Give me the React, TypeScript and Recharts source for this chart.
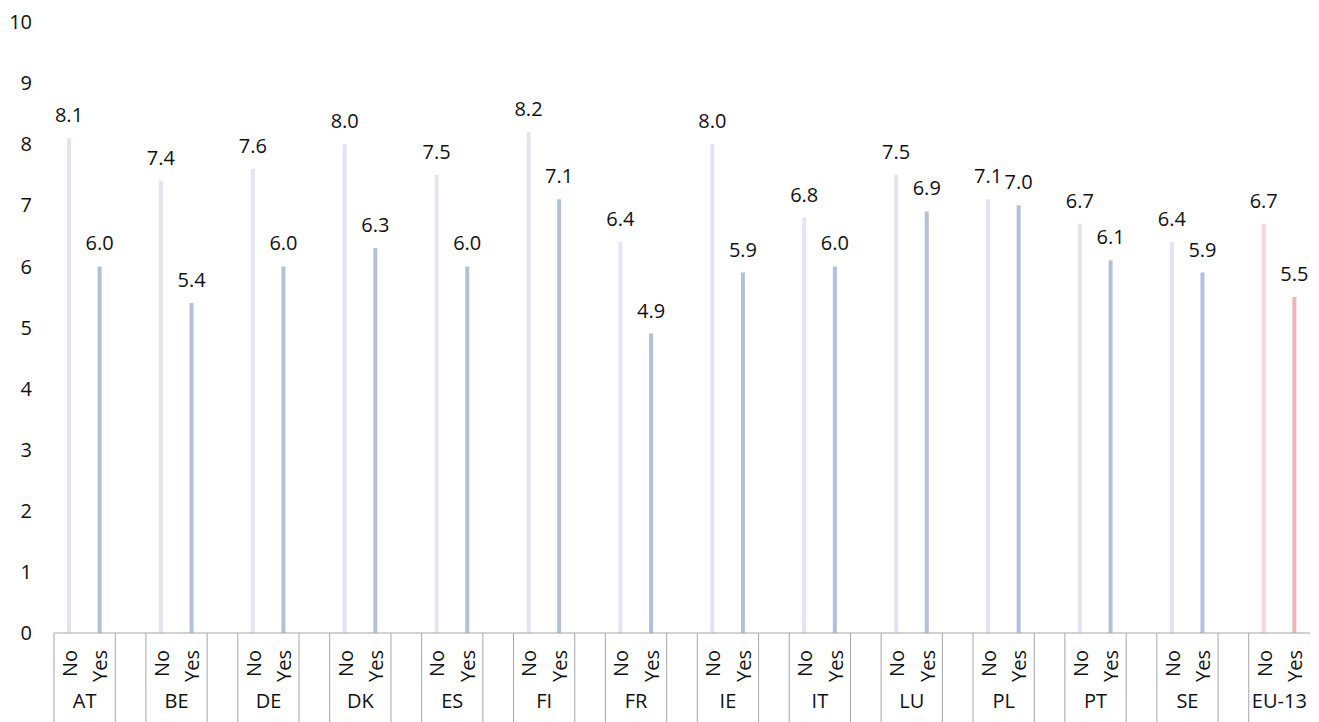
import React from 'react';
import { BarChart, Bar, XAxis, YAxis, Cell, LabelList } from 'recharts';

const countries = ['AT', 'BE', 'DE', 'DK', 'ES', 'FI', 'FR', 'IE', 'IT', 'LU', 'PL', 'PT', 'SE', 'EU-13'];
const noValues = [8.1, 7.4, 7.6, 8.0, 7.5, 8.2, 6.4, 8.0, 6.8, 7.5, 7.1, 6.7, 6.4, 6.7];
const yesValues = [6.0, 5.4, 6.0, 6.3, 6.0, 7.1, 4.9, 5.9, 6.0, 6.9, 7.0, 6.1, 5.9, 5.5];
const seriesLabels = ['No', 'Yes'];
const yTicks = [0, 1, 2, 3, 4, 5, 6, 7, 8, 9, 10];

const colors = {
  no: '#e4e4f0',
  yes: '#b6bfd9',
  euNo: '#f6d8d8',
  euYes: '#eab7bb',
};

type Row = { id: string; label: string; group: string; kind: 'no' | 'yes' | 'gap'; value: number | null };

const rows: Row[] = [];
countries.forEach((c, i) => {
  rows.push({ id: c + '-no', label: seriesLabels[0], group: c, kind: 'no', value: noValues[i] });
  rows.push({ id: c + '-yes', label: seriesLabels[1], group: c, kind: 'yes', value: yesValues[i] });
  if (i < countries.length - 1) rows.push({ id: c + '-gap', label: '', group: c, kind: 'gap', value: null });
});

const W = 1319;
const H = 722;
const MARGIN = { top: 22, right: 9, bottom: 0, left: 0 };
const Y_AXIS_W = 54;
const X_AXIS_H = 89;
const SLOT = (W - MARGIN.left - MARGIN.right - Y_AXIS_W) / rows.length;
const FONT = '"Open Sans", "Noto Sans", sans-serif';
const LINE = '#a6a6a6';

const XTick = (props: any) => {
  const { x, y, payload } = props;
  const idx = payload.index;
  const row = rows[idx];
  const bottom = H;
  const els: React.ReactNode[] = [];
  if (idx === 0) {
    els.push(<line key="l0" x1={x - SLOT / 2} x2={x - SLOT / 2} y1={y} y2={bottom} stroke={LINE} strokeWidth={1} />);
  }
  if (row.kind === 'gap') {
    els.push(<line key="la" x1={x - SLOT / 2} x2={x - SLOT / 2} y1={y} y2={bottom} stroke={LINE} strokeWidth={1} />);
    els.push(<line key="lb" x1={x + SLOT / 2} x2={x + SLOT / 2} y1={y} y2={bottom} stroke={LINE} strokeWidth={1} />);
  } else {
    els.push(
      <text
        key="t"
        x={0}
        y={0}
        transform={`translate(${x}, ${y + 17}) rotate(-90)`}
        textAnchor="end"
        dominantBaseline="central"
        fontSize={20}
        fontFamily={FONT}
        fill="#111"
      >
        {row.label}
      </text>
    );
  }
  if (row.kind === 'no') {
    els.push(
      <text
        key="g"
        x={x + SLOT / 2}
        y={y + 67}
        textAnchor="middle"
        dominantBaseline="central"
        fontSize={20}
        fontFamily={FONT}
        fill="#111"
      >
        {row.group}
      </text>
    );
  }
  return <g>{els}</g>;
};

const fillFor = (r: Row) => {
  const eu = r.group === 'EU-13';
  if (r.kind === 'no') return eu ? colors.euNo : colors.no;
  return eu ? colors.euYes : colors.yes;
};

export default function App() {
  return (
    <div style={{ position: 'absolute', left: 0, top: 0, width: W, height: H, background: '#fff' }}>
      <BarChart width={W} height={H} data={rows} margin={MARGIN}>
        <XAxis
          dataKey="id"
          type="category"
          height={X_AXIS_H}
          interval={0}
          tickLine={false}
          tickSize={0}
          tickMargin={0}
          axisLine={{ stroke: LINE, strokeWidth: 1 }}
          tick={<XTick />}
        />
        <YAxis
          domain={[0, 10]}
          ticks={yTicks}
          width={Y_AXIS_W}
          axisLine={false}
          tickLine={false}
          tickSize={0}
          tickMargin={22}
          interval={0}
          tick={{ fontSize: 20, fontFamily: FONT, fill: '#111' }}
        />
        <Bar dataKey="value" barSize={4} isAnimationActive={false}>
          {rows.map((r) => (
            <Cell key={r.id} fill={fillFor(r)} />
          ))}
          <LabelList
            dataKey="value"
            position="top"
            offset={16}
            formatter={(v: any) => (v == null ? '' : Number(v).toFixed(1))}
            style={{ fontSize: 20, fontFamily: FONT, fill: '#111' }}
          />
        </Bar>
      </BarChart>
    </div>
  );
}
